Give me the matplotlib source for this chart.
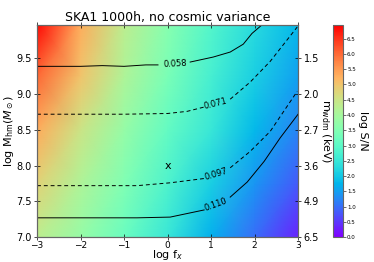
import numpy as np
import matplotlib
matplotlib.use('Agg')
import matplotlib.pyplot as plt

# log S/N
fx = [-3, -2, -1, 0, 1, 2, 3]
mhm = [7.0, 7.75, 8.5, 9.25, 10.0]
logsn = [
    [4.3, 3.8, 3.2, 2.5, 1.7, 1.0, 0.3],
    [4.8, 4.1, 3.5, 2.8, 2.1, 1.4, 0.8],
    [5.3, 4.5, 3.8, 3.1, 2.5, 1.8, 1.2],
    [6.0, 5.0, 4.1, 3.4, 2.7, 2.1, 1.5],
    [6.9, 5.3, 4.3, 3.6, 2.9, 2.3, 1.8],
]

# contour curves (two pieces each, gap for the label)
c058_a = ([-3, -2, -1.5, -1, -0.5, -0.22], [9.39, 9.39, 9.40, 9.39, 9.41, 9.41])
c058_b = ([0.52, 1.05, 1.44, 1.74, 1.94, 2.17], [9.45, 9.52, 9.59, 9.70, 9.85, 9.97])
c071_a = ([-3, -1, 0, 0.45, 0.84], [8.72, 8.72, 8.73, 8.76, 8.82])
c071_b = ([1.44, 1.90, 2.36, 2.98], [8.93, 9.17, 9.46, 9.94])
c097_a = ([-3, -0.7, 0.06, 0.84], [7.72, 7.72, 7.76, 7.82])
c097_b = ([1.44, 1.90, 2.36, 2.98], [7.97, 8.20, 8.48, 9.04])
c110_a = ([-3, -0.7, 0.06, 0.84], [7.27, 7.27, 7.28, 7.38])
c110_b = ([1.44, 1.83, 2.22, 2.59, 3.0], [7.56, 7.77, 8.06, 8.39, 8.72])

lab_text = ['0.058', '0.071', '0.097', '0.110']
lab_x = [0.17, 1.11, 1.11, 1.11]
lab_y = [9.42, 8.87, 7.88, 7.45]
lab_rot = [3, 14, 17, 20]

left_ticks = [7.0, 7.5, 8.0, 8.5, 9.0, 9.5]
right_labels = ['6.5', '4.9', '3.6', '2.7', '2.0', '1.5']
cb_ticks = np.arange(0, 7.0, 0.5)

fig = plt.figure(figsize=(3.74, 2.62), dpi=100)
ax = fig.add_axes([0.099, 0.095, 0.698, 0.810])
cax = fig.add_axes([0.890, 0.095, 0.027, 0.810])

pc = ax.pcolormesh(fx, mhm, np.array(logsn), shading='gouraud',
                   cmap='rainbow', vmin=0, vmax=6.95, rasterized=True)

lw = 0.7
for seg in (c058_a, c058_b, c110_a, c110_b):
    ax.plot(seg[0], seg[1], color='k', lw=lw)
for seg in (c071_a, c071_b, c097_a, c097_b):
    ax.plot(seg[0], seg[1], color='k', lw=lw, ls=(0, (4, 3)))
for t, x, y, r in zip(lab_text, lab_x, lab_y, lab_rot):
    ax.text(x, y, t, fontsize=6, rotation=r, ha='center', va='center')

ax.text(0, 8.0, 'x', fontsize=8, ha='center', va='center')

ax.set_xlim(-3, 3)
ax.set_ylim(7.0, 9.97)
ax.set_yticks(left_ticks)
ax.set_xticks([-3, -2, -1, 0, 1, 2, 3])
ax.tick_params(direction='inout', length=4, width=0.5, labelsize=7, top=True, pad=2)
ax.tick_params(axis='x', pad=0.5, labelsize=6.5)
ax.set_xlabel(r'log f$_x$', fontsize=8)
ax.xaxis.set_label_coords(0.5, -0.052)
ax.set_ylabel(r'log M$_{\rm hm}(M_\odot)$', fontsize=8, labelpad=0)
ax.set_title('SKA1 1000h, no cosmic variance', fontsize=9, pad=3)
for s in ax.spines.values():
    s.set_color('#666666')

ax2 = ax.twinx()
ax2.set_ylim(ax.get_ylim())
ax2.set_yticks(left_ticks)
ax2.set_yticklabels(right_labels)
ax2.tick_params(direction='inout', length=4, width=0.5, labelsize=7, pad=2)
ax2.set_ylabel(r'm$_{\rm wdm}$ (keV)', fontsize=8, rotation=270, labelpad=10)
for s in ax2.spines.values():
    s.set_color('#666666')

cb = fig.colorbar(pc, cax=cax, ticks=cb_ticks)
cb.ax.tick_params(labelsize=4, length=2, width=0.4, pad=1)
cb.ax.set_yticklabels(['%.1f' % t for t in cb_ticks])
cb.outline.set_edgecolor('#666666')
cb.set_label('log S/N', fontsize=8, rotation=270, labelpad=9)

fig.savefig('out.png', dpi=100)
